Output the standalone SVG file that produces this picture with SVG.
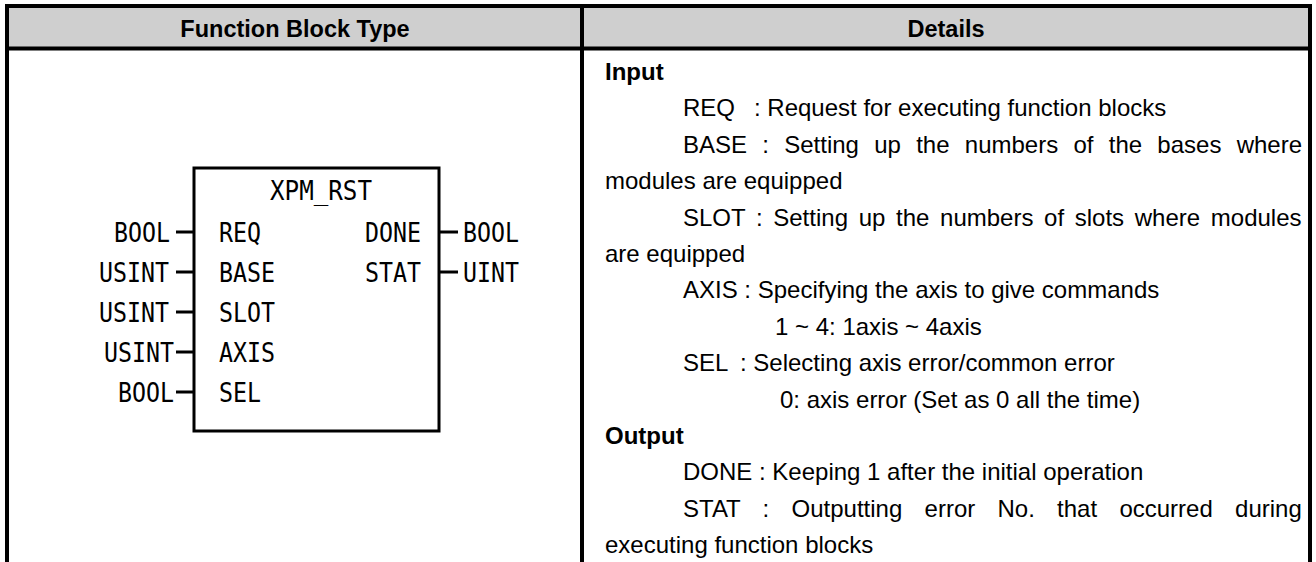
<svg xmlns="http://www.w3.org/2000/svg" width="1316" height="562" viewBox="0 0 1316 562">
<style>
.hd{font-family:"Liberation Sans",Arial,sans-serif;font-weight:bold;font-size:23.5px;fill:#000;text-anchor:middle}
.tx{font-family:"Liberation Sans",Arial,sans-serif;font-size:24px;fill:#000}
.bd{font-weight:bold}
.fb{font-family:"DejaVu Sans Mono","Liberation Mono",monospace;font-size:27px;fill:#000}
.end{text-anchor:end}
.bl{stroke:#000;stroke-width:4;fill:none}
.pin{stroke:#000;stroke-width:3;fill:none}
</style>
<rect width="1316" height="562" fill="#fff"/>
<g id="table">
  <rect x="7" y="6" width="1303" height="42.5" fill="#cfcfcf"/>
  <line class="bl" x1="5" y1="6" x2="1312" y2="6"/>
  <line class="bl" x1="7" y1="4" x2="7" y2="562"/>
  <line class="bl" x1="1310" y1="4" x2="1310" y2="562"/>
  <line class="bl" x1="582" y1="4" x2="582" y2="562"/>
  <line class="bl" x1="5" y1="48.5" x2="1312" y2="48.5"/>
  <text class="hd" x="295" y="37">Function Block Type</text>
  <text class="hd" x="946" y="37">Details</text>
</g>
<g id="function-block">
  <rect x="194" y="168" width="245" height="263" fill="#fff" stroke="#000" stroke-width="3"/>
  <text class="fb" x="270" y="200" textLength="102" lengthAdjust="spacingAndGlyphs">XPM_RST</text>
  <text class="fb" x="219" y="242" textLength="42" lengthAdjust="spacingAndGlyphs">REQ</text>
  <text class="fb" x="219" y="282" textLength="56" lengthAdjust="spacingAndGlyphs">BASE</text>
  <text class="fb" x="219" y="322" textLength="56" lengthAdjust="spacingAndGlyphs">SLOT</text>
  <text class="fb" x="219" y="362" textLength="56" lengthAdjust="spacingAndGlyphs">AXIS</text>
  <text class="fb" x="219" y="402" textLength="42" lengthAdjust="spacingAndGlyphs">SEL</text>
  <text class="fb" x="365" y="242" textLength="56" lengthAdjust="spacingAndGlyphs">DONE</text>
  <text class="fb" x="365" y="282" textLength="56" lengthAdjust="spacingAndGlyphs">STAT</text>
</g>
<g id="input-types">
  <text class="fb end" x="170" y="242" textLength="56" lengthAdjust="spacingAndGlyphs">BOOL</text>
  <text class="fb end" x="169" y="282" textLength="70" lengthAdjust="spacingAndGlyphs">USINT</text>
  <text class="fb end" x="169" y="322" textLength="70" lengthAdjust="spacingAndGlyphs">USINT</text>
  <text class="fb end" x="174" y="362" textLength="70" lengthAdjust="spacingAndGlyphs">USINT</text>
  <text class="fb end" x="174" y="402" textLength="56" lengthAdjust="spacingAndGlyphs">BOOL</text>
</g>
<g id="output-types">
  <text class="fb" x="463" y="242" textLength="56" lengthAdjust="spacingAndGlyphs">BOOL</text>
  <text class="fb" x="463" y="282" textLength="56" lengthAdjust="spacingAndGlyphs">UINT</text>
</g>
<g id="connectors">
  <line class="pin" x1="176" y1="232" x2="194" y2="232"/>
  <line class="pin" x1="176" y1="272" x2="194" y2="272"/>
  <line class="pin" x1="176" y1="312" x2="194" y2="312"/>
  <line class="pin" x1="176" y1="352" x2="194" y2="352"/>
  <line class="pin" x1="176" y1="392" x2="194" y2="392"/>
  <line class="pin" x1="439" y1="232" x2="458" y2="232"/>
  <line class="pin" x1="439" y1="272" x2="458" y2="272"/>
</g>
<g id="details">
  <text class="tx bd" x="605" y="80">Input</text>
  <text class="tx" x="683" y="116.4">REQ<tspan x="754">: Request for executing function blocks</tspan></text>
  <text class="tx" x="683" y="152.8" word-spacing="8.6">BASE : Setting up the numbers of the bases where</text>
  <text class="tx" x="605" y="189.2">modules are equipped</text>
  <text class="tx" x="683" y="225.6" word-spacing="4">SLOT : Setting up the numbers of slots where modules</text>
  <text class="tx" x="605" y="262">are equipped</text>
  <text class="tx" x="683" y="298.4">AXIS : Specifying the axis to give commands</text>
  <text class="tx" x="775" y="334.8">1 ~ 4: 1axis ~ 4axis</text>
  <text class="tx" x="683" y="371.2">SEL<tspan x="740">: Selecting axis error/common error</tspan></text>
  <text class="tx" x="780" y="407.6">0: axis error (Set as 0 all the time)</text>
  <text class="tx bd" x="605" y="444">Output</text>
  <text class="tx" x="683" y="480.4">DONE : Keeping 1 after the initial operation</text>
  <text class="tx" x="683" y="516.8" word-spacing="15.6">STAT : Outputting error No. that occurred during</text>
  <text class="tx" x="605" y="553.2">executing function blocks</text>
</g>
</svg>
